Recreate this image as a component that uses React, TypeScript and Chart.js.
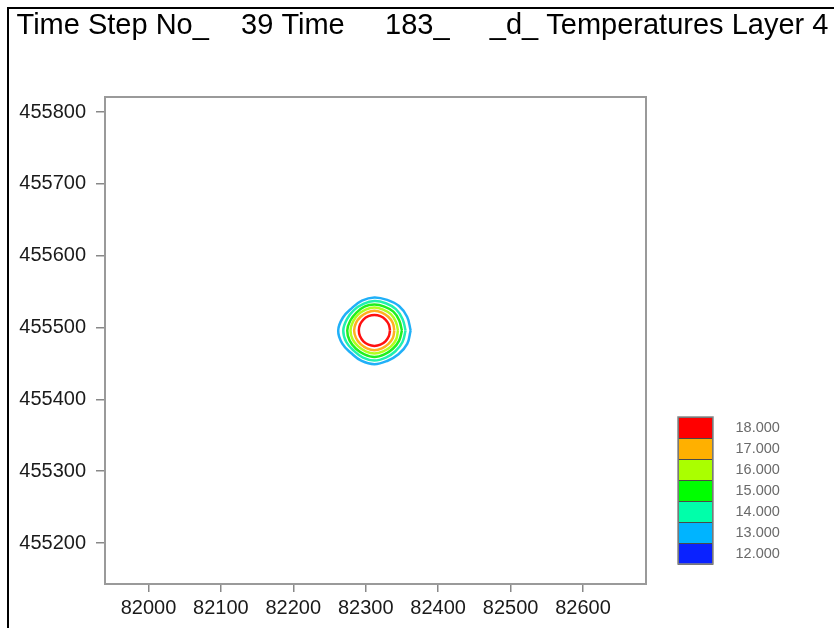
import React, { useEffect, useRef } from "react";
import { Chart, registerables } from "chart.js";

Chart.register(...registerables);

// ---- data ----
const titleText = "Time Step No_    39 Time     183_     _d_ Temperatures Layer 4";
const xTicks = [82000, 82100, 82200, 82300, 82400, 82500, 82600];
const yTicks = [455200, 455300, 455400, 455500, 455600, 455700, 455800];
const xRange = [81940, 82687];
const yRange = [455143, 455821];

const legendLabels = ["18.000", "17.000", "16.000", "15.000", "14.000", "13.000", "12.000"];
const legendColors = ["#ff0000", "#ffb000", "#aaff00", "#00ff00", "#00ffaa", "#00b4ff", "#0a22ff"];

const contourLevels = [18, 17, 16, 15, 14, 13];
const contourColors = ["#ff1010", "#ffb020", "#b0ff20", "#20f020", "#20f0b0", "#20b0f8"];
const contourCenter = [82312, 455496];
const contourAngles = [0, 22.5, 45, 67.5, 90, 112.5, 135, 157.5, 180, 202.5, 225, 247.5, 270, 292.5, 315, 337.5];
const radii18 = [21.5, 21.5, 21.5, 21.5, 21.5, 21.5, 21.5, 21.5, 21.5, 21.5, 21.5, 21.5, 21.5, 21.5, 21.5, 21.5];
const radii17 = [27.5, 27.5, 27, 27, 27.5, 27, 27, 27.5, 28, 27.5, 27, 27, 27.5, 27, 27, 27.5];
const radii16 = [32.5, 32, 32, 31.5, 32, 31.5, 31.5, 32, 33, 32.5, 31.5, 31.5, 32, 31.5, 32, 32.5];
const radii15 = [38, 37, 37, 36, 36, 36, 35, 36, 37.5, 37, 36, 36, 37, 36, 36, 37];
const radii14 = [43, 42, 42, 41, 41, 40, 40, 41, 43, 42, 40, 41, 42, 41, 41, 42];
const radii13 = [50, 49, 48, 46, 46, 45, 44, 47, 50, 48, 45, 46, 47, 46, 47, 49];
const contourRadii = [radii18, radii17, radii16, radii15, radii14, radii13];

const FONT = "Arial, 'Liberation Sans', Helvetica, sans-serif";

function contourPoints(radii: number[]) {
  const pts = contourAngles.map((a, i) => {
    const t = (a * Math.PI) / 180;
    return { x: contourCenter[0] + radii[i] * Math.cos(t), y: contourCenter[1] + radii[i] * Math.sin(t) };
  });
  pts.push({ ...pts[0] });
  return pts;
}

const decorPlugin = {
  id: "decor",
  beforeDraw(chart: any) {
    const ctx = chart.ctx;
    ctx.save();
    ctx.fillStyle = "#ffffff";
    ctx.fillRect(0, 0, chart.width, chart.height);
    ctx.fillStyle = "#000000";
    ctx.fillRect(7, 7, chart.width, 2);
    ctx.fillRect(7, 7, 2, chart.height);
    ctx.font = `29px ${FONT}`;
    ctx.textBaseline = "alphabetic";
    ctx.textAlign = "left";
    ctx.fillText(titleText, 16.5, 33.5);
    ctx.restore();
  },
  afterDraw(chart: any) {
    const ctx = chart.ctx;
    const a = chart.chartArea;
    ctx.save();
    ctx.strokeStyle = "#9a9a9a";
    ctx.lineWidth = 2;
    ctx.strokeRect(a.left, a.top, a.right - a.left, a.bottom - a.top);
    // legend
    const bx = 678, by = 417, bw = 35, bh = 21;
    legendLabels.forEach((lab, i) => {
      ctx.fillStyle = legendColors[i];
      ctx.fillRect(bx, by + i * bh, bw, bh);
      ctx.strokeStyle = "#4a4a4a";
      ctx.lineWidth = 1;
      ctx.strokeRect(bx + 0.5, by + i * bh + 0.5, bw - 1, bh);
      ctx.fillStyle = "#6a6a6a";
      ctx.font = `14.5px ${FONT}`;
      ctx.textBaseline = "middle";
      ctx.textAlign = "left";
      ctx.fillText(lab, 735.5, by + i * bh + bh / 2);
    });
    ctx.strokeStyle = "#888";
    ctx.lineWidth = 1.5;
    ctx.strokeRect(bx, by, bw, bh * legendLabels.length);
    ctx.restore();
  },
};

export default function App() {
  const ref = useRef<HTMLCanvasElement | null>(null);
  useEffect(() => {
    if (!ref.current) return;
    const chart = new Chart(ref.current, {
      type: "scatter",
      data: {
        datasets: contourLevels.map((lv, i) => ({
          label: String(lv),
          data: contourPoints(contourRadii[i]),
          showLine: true,
          borderColor: contourColors[i],
          borderWidth: 2.5,
          pointRadius: 0,
          tension: 0.4,
          fill: false,
        })),
      },
      options: {
        responsive: false,
        animation: false,
        events: [],
        layout: { padding: { top: 97, right: 188, left: 0, bottom: 0 } },
        plugins: { legend: { display: false }, tooltip: { enabled: false }, title: { display: false } },
        scales: {
          x: {
            type: "linear",
            min: xRange[0],
            max: xRange[1],
            afterFit: (s: any) => { s.height = 44; },
            afterBuildTicks: (s: any) => { s.ticks = xTicks.map((v) => ({ value: v })); },
            ticks: {
              autoSkip: false,
              maxRotation: 0,
              padding: 4,
              color: "#1a1a1a",
              font: { family: FONT, size: 20 },
              callback: (v: any) => String(v),
            },
            grid: { drawOnChartArea: false, drawTicks: true, tickLength: 8, color: "#888", lineWidth: 1.5 },
            border: { display: false },
          },
          y: {
            type: "linear",
            min: yRange[0],
            max: yRange[1],
            afterFit: (s: any) => { s.width = 105; },
            afterBuildTicks: (s: any) => { s.ticks = yTicks.map((v) => ({ value: v })); },
            ticks: {
              autoSkip: false,
              padding: 10,
              color: "#1a1a1a",
              font: { family: FONT, size: 20 },
              callback: (v: any) => String(v),
            },
            grid: { drawOnChartArea: false, drawTicks: true, tickLength: 9, color: "#888", lineWidth: 1.5 },
            border: { display: false },
          },
        },
      },
      plugins: [decorPlugin],
    });
    return () => chart.destroy();
  }, []);
  return (
    <div style={{ position: "absolute", left: 0, top: 0, width: 834, height: 628, background: "#fff" }}>
      <canvas ref={ref} width={834} height={628} style={{ display: "block" }} />
    </div>
  );
}
